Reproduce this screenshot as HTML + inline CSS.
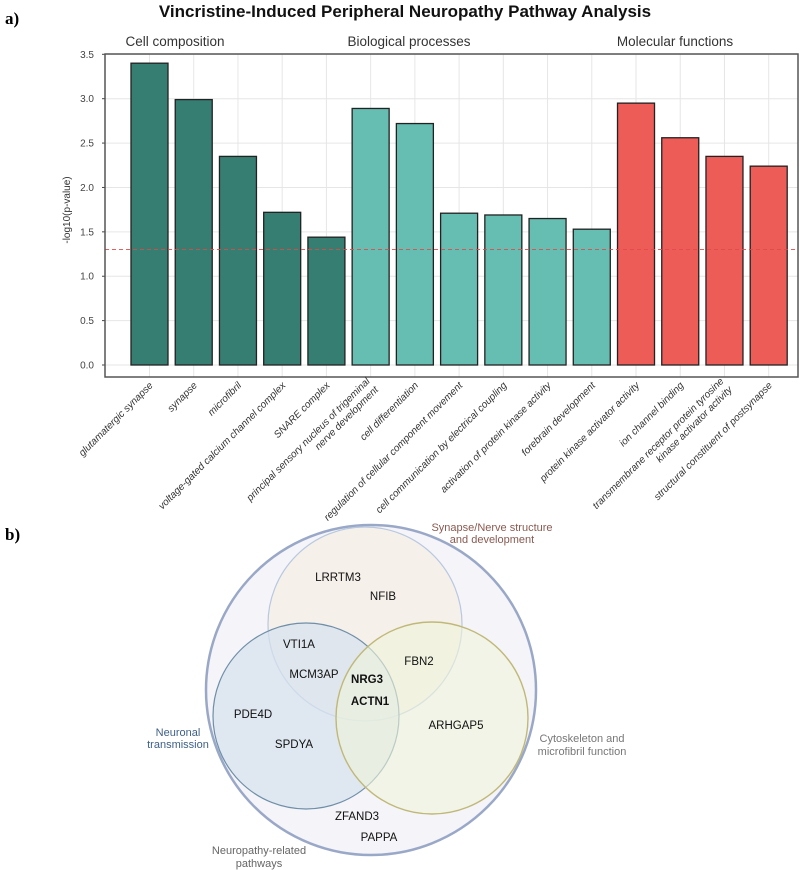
<!DOCTYPE html>
<html><head><meta charset="utf-8"><style>
body{margin:0;background:#fff;width:800px;height:870px;overflow:hidden}
svg{display:block;font-family:"Liberation Sans",sans-serif}
</style></head><body>
<svg width="800" height="870" viewBox="0 0 800 870">
<text x="5" y="24" font-family="Liberation Serif" font-weight="bold" font-size="17">a)</text>
<text x="405" y="17" text-anchor="middle" font-weight="bold" font-size="17" fill="#111">Vincristine-Induced Peripheral Neuropathy Pathway Analysis</text>
<text x="175" y="46" text-anchor="middle" font-size="13.5" fill="#333">Cell composition</text>
<text x="409" y="46" text-anchor="middle" font-size="13.5" fill="#333">Biological processes</text>
<text x="675" y="46" text-anchor="middle" font-size="13.5" fill="#333">Molecular functions</text>
<g id="chart"></g>
<text x="5" y="540" font-family="Liberation Serif" font-weight="bold" font-size="17">b)</text>
<g>
<circle cx="371" cy="690" r="165" fill="#f4f4f9" stroke="#9aa8c8" stroke-width="2.5"/>
<circle cx="365" cy="624" r="97" fill="#f5efe8" fill-opacity="0.85" stroke="#b8c8e0" stroke-width="1.2"/>
<circle cx="306" cy="716" r="93" fill="#d5e1ee" fill-opacity="0.7" stroke="#6f8fa8" stroke-width="1.2"/>
<circle cx="432" cy="718" r="96" fill="#eef3d8" fill-opacity="0.6" stroke="#c0b878" stroke-width="1.4"/>
<g font-size="11.5" fill="#111" text-anchor="middle">
<text x="338" y="581">LRRTM3</text>
<text x="383" y="600">NFIB</text>
<text x="299" y="648">VTI1A</text>
<text x="314" y="678">MCM3AP</text>
<text x="367" y="683" font-weight="bold">NRG3</text>
<text x="370" y="705" font-weight="bold">ACTN1</text>
<text x="419" y="665">FBN2</text>
<text x="253" y="718">PDE4D</text>
<text x="294" y="748">SPDYA</text>
<text x="456" y="729">ARHGAP5</text>
<text x="357" y="820">ZFAND3</text>
<text x="379" y="841">PAPPA</text>
</g>
<g font-size="11" text-anchor="middle">
<text x="492" y="531" fill="#8a5a50">Synapse/Nerve structure</text>
<text x="492" y="543" fill="#8a5a50">and development</text>
<text x="178" y="736" fill="#3e5f86">Neuronal</text>
<text x="178" y="748" fill="#3e5f86">transmission</text>
<text x="582" y="742" fill="#777">Cytoskeleton and</text>
<text x="582" y="755" fill="#777">microfibril function</text>
<text x="259" y="854" fill="#666">Neuropathy-related</text>
<text x="259" y="867" fill="#666">pathways</text>
</g>
</g>
</svg>
<script>
const categories=["glutamatergic synapse","synapse","microfibril","voltage-gated calcium channel complex","SNARE complex","principal sensory nucleus of trigeminal|nerve development","cell differentiation","regulation of cellular component movement","cell communication by electrical coupling","activation of protein kinase activity","forebrain development","protein kinase activator activity","ion channel binding","transmembrane receptor protein tyrosine|kinase activator activity","structural constituent of postsynapse"];
const values=[3.40,2.99,2.35,1.72,1.44,2.89,2.72,1.71,1.69,1.65,1.53,2.95,2.56,2.35,2.24];
const groups=["cc","cc","cc","cc","cc","bp","bp","bp","bp","bp","bp","mf","mf","mf","mf"];
const yTicks=[0,0.5,1,1.5,2,2.5,3,3.5];
const yTickLabels=["0.0","0.5","1.0","1.5","2.0","2.5","3.0","3.5"];
const threshold=[1.3];
const colors={cc:"#367d72",bp:"#66bdb2",mf:"#ee5c58"};
const NS="http://www.w3.org/2000/svg";
const g=document.getElementById("chart");
const L=105,R=798,T=54,B=377;
const y=v=>365-v*88.77;
const step=(768.7-149.5)/(categories.length-1);
const x=i=>149.5+i*step;
function mk(t,a){const e=document.createElementNS(NS,t);for(const k in a)e.setAttribute(k,a[k]);g.appendChild(e);return e;}
yTicks.forEach((t,i)=>{
 const l=mk("line",{x1:L,x2:R,y1:y(t),y2:y(t),stroke:"#e6e6e6","stroke-width":1});
 
 
 const tx=mk("text",{x:94,y:y(t)+3.5,"text-anchor":"end","font-size":10,fill:"#444"});
 tx.textContent=yTickLabels[i];
 
 
 const tk=mk("line",{x1:L-3,x2:L,y1:y(t),y2:y(t),stroke:"#444"});
 
 
});
categories.forEach((c,i)=>{
 const l=mk("line",{x1:x(i),x2:x(i),y1:T,y2:B,stroke:"#e6e6e6"});
 
 
});
categories.forEach((c,i)=>{
 const r=mk("rect",{x:x(i)-18.5,y:y(values[i]),width:37,height:y(0)-y(values[i]),fill:colors[groups[i]],stroke:"#222","stroke-width":1.3});
 
 
});
threshold.forEach(v=>{
 const l=mk("line",{x1:L,x2:R,y1:y(v),y2:y(v),stroke:"#e04a4a","stroke-width":0.9,"stroke-dasharray":"4,3"});
 
 
});
const fr=mk("rect",{x:L,y:T,width:R-L,height:B-T,fill:"none",stroke:"#555","stroke-width":1.5});


categories.forEach((c,i)=>{
 const lines=c.split("|");
 const t=mk("text",{transform:`translate(${x(i)+4},${B+9}) rotate(-45)`,"text-anchor":"end","font-size":10,"font-style":"italic",fill:"#333"});
 
 
 lines.forEach((s,j)=>{const ts=document.createElementNS(NS,"tspan");ts.setAttribute("x",0);ts.setAttribute("dy",j===0?(lines.length>1?-6:0):12);ts.textContent=s;t.appendChild(ts);});
});
const yt=mk("text",{transform:"translate(70,210) rotate(-90)","text-anchor":"middle","font-size":10,fill:"#333"});
yt.textContent="-log10(p-value)";


</script>
</body></html>
